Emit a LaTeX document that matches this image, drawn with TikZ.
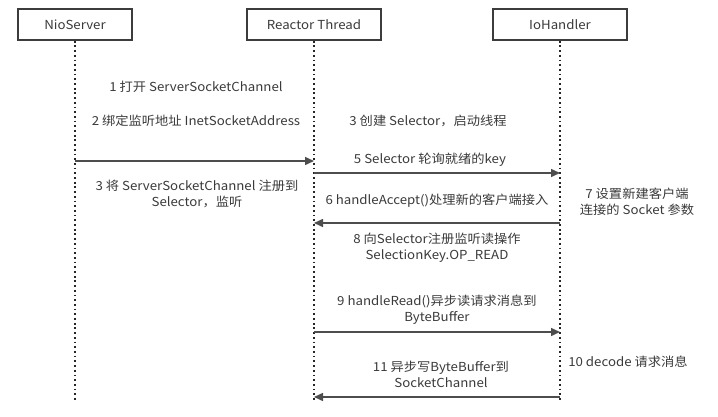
\documentclass[tikz,border=0pt]{standalone}
\usepackage{fontspec}
\setmainfont[FakeStretch=1.07]{Noto Sans CJK SC}
\usetikzlibrary{arrows.meta}
\definecolor{txt}{HTML}{3A3A3A}
\definecolor{ln}{HTML}{4D4D4D}
\definecolor{bx}{HTML}{3C3C3C}
\tikzset{
  actor/.style={draw=bx, line width=1.6pt, minimum width=134pt, minimum height=31pt, inner sep=0pt, text=txt, font=\fontsize{12.4}{16}\selectfont},
  life/.style={draw=black!85, line width=1.8pt, dash pattern=on 1.8pt off 2.9pt},
  msg/.style={draw=ln, line width=1.5pt, -{Triangle[length=9pt,width=8pt]}},
  lbl/.style={text=txt, align=center, inner sep=0pt, font=\fontsize{12.4}{16}\selectfont},
}
\begin{document}
\begin{tikzpicture}[x=1pt,y=-1pt]
\useasboundingbox (0,0) rectangle (718,417);
% actors
\node[actor, minimum width=114pt] (ns) at (75,24.5) {NioServer};
\node[actor] (rt) at (314,24.5) {Reactor Thread};
\node[actor] (ioh) at (560,24.5) {IoHandler};
% lifeline ends
\coordinate (nsE) at (75,401);
\coordinate (rtE) at (314,401);
\coordinate (iohE) at (560,401);
\draw[life] (ns.south) -- (nsE);
\draw[life] (rt.south) -- (rtE);
\draw[life] (ioh.south) -- (iohE);
% message anchors
\coordinate (m1a) at (75,161);  \coordinate (m1b) at (314,161);
\coordinate (m5a) at (314,173); \coordinate (m5b) at (560,173);
\coordinate (m6a) at (560,223); \coordinate (m6b) at (314,223);
\coordinate (m9a) at (314,332); \coordinate (m9b) at (560,332);
\coordinate (m11a) at (560,397); \coordinate (m11b) at (314,397);
\draw[msg] (m1a) -- (m1b);
\draw[msg] (m5a) -- (m5b);
\draw[msg] (m6a) -- (m6b);
\draw[msg] (m9a) -- (m9b);
\draw[msg] (m11a) -- (m11b);
% labels
\node[lbl] (t1) at (196,87) {1 打开 ServerSocketChannel};
\node[lbl] (t2) at (196,121) {2 绑定监听地址 InetSocketAddress};
\node[lbl] (t3a) at (428,121) {3 创建 Selector，启动线程};
\node[lbl] (t3b) at (197,194) {3 将 ServerSocketChannel 注册到\\Selector，监听};
\node[lbl] (t5) at (430,160) {5 Selector 轮询就绪的key};
\node[lbl] (t6) at (437,201) {6 handleAccept()处理新的客户端接入};
\node[lbl] (t7) at (637,202) {7 设置新建客户端\\连接的 Socket 参数};
\node[lbl] (t8) at (437,248) {8 向Selector注册监听读操作\\SelectionKey.OP\_READ};
\node[lbl] (t9) at (437,310) {9 handleRead()异步读请求消息到\\ByteBuffer};
\node[lbl] (t10) at (628,362) {10 decode 请求消息};
\node[lbl] (t11) at (441,374) {11 异步写ByteBuffer到\\SocketChannel};
\end{tikzpicture}
\end{document}
